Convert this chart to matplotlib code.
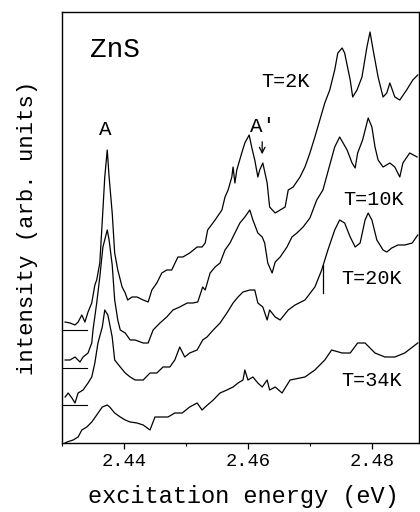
import matplotlib
matplotlib.use("Agg")
import matplotlib.pyplot as plt
from matplotlib.ticker import MultipleLocator

# excitation spectra of ZnS
# (energies in eV, intensity in arbitrary units incl. vertical offsets)
x_2K = [2.4305, 2.4313, 2.4321, 2.4326, 2.4332, 2.4337, 2.4342, 2.4348, 2.4353, 2.4356,
        2.4361, 2.4366, 2.4369, 2.4373, 2.4376, 2.4381, 2.4385, 2.4390, 2.4397, 2.4402,
        2.4406, 2.4413, 2.4421, 2.4431, 2.4439, 2.4445, 2.4453, 2.4461, 2.4469, 2.4477,
        2.4487, 2.4495, 2.4506, 2.4518, 2.4526, 2.4531, 2.4535, 2.4547, 2.4558, 2.4563,
        2.4568, 2.4574, 2.4576, 2.4579, 2.4582, 2.4590, 2.4595, 2.4602, 2.4606, 2.4611,
        2.4616, 2.4619, 2.4624, 2.4631, 2.4635, 2.4644, 2.4652, 2.4660, 2.4665, 2.4673,
        2.4684, 2.4692, 2.4700, 2.4708, 2.4716, 2.4724, 2.4732, 2.4740, 2.4745, 2.4752,
        2.4756, 2.4765, 2.4769, 2.4776, 2.4784, 2.4792, 2.4797, 2.4802, 2.4810, 2.4818,
        2.4824, 2.4829, 2.4837, 2.4845, 2.4856, 2.4866, 2.4874]
y_2K = [1.21, 1.20, 1.18, 1.21, 1.28, 1.21, 1.31, 1.40, 1.58, 1.63,
        1.80, 2.33, 2.66, 2.93, 2.66, 2.30, 1.90, 1.73, 1.56, 1.50,
        1.43, 1.46, 1.46, 1.43, 1.41, 1.53, 1.60, 1.70, 1.73, 1.73,
        1.86, 1.86, 1.90, 1.96, 1.96, 2.00, 2.13, 2.23, 2.33, 2.46,
        2.53, 2.66, 2.76, 2.60, 2.73, 2.90, 3.00, 3.08, 2.96, 2.83,
        2.66, 2.73, 2.80, 2.60, 2.36, 2.30, 2.33, 2.36, 2.53, 2.56,
        2.66, 2.76, 2.90, 3.06, 3.23, 3.40, 3.53, 3.73, 3.90, 3.95,
        3.90, 3.63, 3.46, 3.53, 3.66, 3.96, 4.11, 3.93, 3.66, 3.46,
        3.50, 3.60, 3.46, 3.43, 3.53, 3.63, 3.68]

x_10K = [2.4305, 2.4313, 2.4321, 2.4329, 2.4334, 2.4342, 2.4348, 2.4350, 2.4356, 2.4361,
         2.4366, 2.4373, 2.4376, 2.4381, 2.4385, 2.4390, 2.4394, 2.4402, 2.4410, 2.4418,
         2.4431, 2.4439, 2.4447, 2.4458, 2.4469, 2.4479, 2.4490, 2.4502, 2.4511, 2.4519,
         2.4527, 2.4531, 2.4539, 2.4547, 2.4555, 2.4563, 2.4571, 2.4579, 2.4587, 2.4595,
         2.4603, 2.4608, 2.4616, 2.4623, 2.4627, 2.4632, 2.4639, 2.4644, 2.4652, 2.4663,
         2.4671, 2.4679, 2.4689, 2.4700, 2.4711, 2.4721, 2.4732, 2.4740, 2.4748, 2.4760,
         2.4768, 2.4773, 2.4777, 2.4785, 2.4794, 2.4800, 2.4805, 2.4810, 2.4818, 2.4829,
         2.4837, 2.4845, 2.4850, 2.4861, 2.4873]
y_10K = [0.83, 0.83, 0.86, 0.81, 0.86, 0.90, 1.00, 1.13, 1.40, 1.66,
         1.96, 2.13, 2.03, 1.78, 1.43, 1.23, 1.13, 1.10, 1.03, 1.03,
         1.00, 1.00, 1.13, 1.20, 1.26, 1.33, 1.36, 1.40, 1.40, 1.41,
         1.56, 1.53, 1.70, 1.76, 1.80, 1.93, 2.00, 2.10, 2.20, 2.26,
         2.33, 2.23, 2.10, 2.06, 2.00, 1.80, 1.70, 1.81, 1.86, 1.96,
         2.06, 2.10, 2.16, 2.25, 2.43, 2.53, 2.78, 2.96, 3.06, 2.93,
         2.80, 2.75, 2.90, 3.03, 3.25, 3.16, 2.96, 2.83, 2.76, 2.80,
         2.76, 2.66, 2.80, 2.90, 2.86]

x_20K = [2.4305, 2.4310, 2.4316, 2.4321, 2.4326, 2.4334, 2.4342, 2.4348, 2.4353, 2.4358,
         2.4365, 2.4369, 2.4374, 2.4381, 2.4385, 2.4394, 2.4402, 2.4410, 2.4418, 2.4431,
         2.4442, 2.4453, 2.4463, 2.4474, 2.4482, 2.4490, 2.4498, 2.4506, 2.4518, 2.4527,
         2.4534, 2.4544, 2.4555, 2.4566, 2.4576, 2.4584, 2.4592, 2.4603, 2.4611, 2.4616,
         2.4624, 2.4631, 2.4635, 2.4644, 2.4652, 2.4665, 2.4676, 2.4692, 2.4708, 2.4719,
         2.4729, 2.4740, 2.4748, 2.4756, 2.4765, 2.4773, 2.4781, 2.4789, 2.4794, 2.4800,
         2.4808, 2.4818, 2.4824, 2.4832, 2.4842, 2.4853, 2.4865, 2.4874]
y_20K = [0.46, 0.50, 0.45, 0.40, 0.50, 0.53, 0.60, 0.66, 0.80, 1.00,
         1.16, 1.33, 1.28, 1.06, 0.83, 0.76, 0.70, 0.66, 0.63, 0.63,
         0.70, 0.70, 0.76, 0.76, 0.83, 0.96, 0.86, 0.90, 0.93, 1.03,
         1.06, 1.13, 1.20, 1.30, 1.40, 1.46, 1.51, 1.53, 1.53, 1.40,
         1.36, 1.23, 1.33, 1.26, 1.23, 1.33, 1.38, 1.43, 1.56, 1.73,
         1.93, 2.13, 2.23, 2.20, 2.06, 1.96, 2.00, 2.23, 2.30, 2.23,
         2.03, 1.93, 1.91, 1.95, 1.98, 1.98, 2.00, 2.08]

x_34K = [2.4305, 2.4308, 2.4318, 2.4326, 2.4332, 2.4340, 2.4348, 2.4356, 2.4365, 2.4373,
         2.4377, 2.4385, 2.4394, 2.4402, 2.4410, 2.4421, 2.4431, 2.4442, 2.4450, 2.4461,
         2.4471, 2.4482, 2.4494, 2.4506, 2.4518, 2.4526, 2.4531, 2.4544, 2.4555, 2.4566,
         2.4576, 2.4584, 2.4592, 2.4595, 2.4600, 2.4608, 2.4616, 2.4623, 2.4631, 2.4635,
         2.4644, 2.4655, 2.4668, 2.4684, 2.4692, 2.4708, 2.4724, 2.4735, 2.4752, 2.4765,
         2.4777, 2.4789, 2.4805, 2.4821, 2.4837, 2.4853, 2.4874]
y_34K = [0.00, 0.01, 0.03, 0.06, 0.13, 0.16, 0.21, 0.28, 0.36, 0.38,
         0.36, 0.30, 0.26, 0.23, 0.21, 0.20, 0.18, 0.13, 0.26, 0.26,
         0.26, 0.30, 0.30, 0.36, 0.40, 0.33, 0.36, 0.43, 0.50, 0.53,
         0.56, 0.60, 0.63, 0.73, 0.63, 0.66, 0.60, 0.56, 0.63, 0.53,
         0.56, 0.50, 0.63, 0.65, 0.66, 0.73, 0.83, 0.93, 0.90, 0.90,
         1.00, 1.00, 0.90, 0.86, 0.86, 0.90, 1.00]

# zero levels of the offset curves (short marks at the left)
baselines = [1.13, 0.75, 0.38]
base_x = [2.4300, 2.4340]

labels = ["T=2K", "T=10K", "T=20K", "T=34K"]
label_xy = [(2.4661, 3.61), (2.4803, 2.43), (2.4800, 1.65), (2.4800, 0.62)]

mono = "Liberation Mono"

fig = plt.figure(figsize=(4.2, 5.12), dpi=100)
ax = fig.add_axes([62 / 420, 69 / 512, 357 / 420, 431 / 512])

for xs, ys in [(x_2K, y_2K), (x_10K, y_10K), (x_20K, y_20K), (x_34K, y_34K)]:
    ax.plot(xs, ys, color="black", lw=0.9)

for b in baselines:
    ax.plot(base_x, [b, b], color="black", lw=0.8)

# small vertical marker on the T=20K trace
ax.plot([2.4721, 2.4721], [1.50, 1.78], color="black", lw=0.9)

for t, (tx, ty) in zip(labels, label_xy):
    ax.text(tx, ty, t, family=mono, fontsize=14.5, ha="center", va="center")

ax.text(2.4385, 3.93, "ZnS", family=mono, fontsize=20, ha="center", va="center")
ax.text(2.4369, 3.13, "A", family=mono, fontsize=15, ha="center", va="center")
ax.text(2.4623, 3.16, "A'", family=mono, fontsize=15, ha="center", va="center")
ax.annotate("", xy=(2.4623, 2.86), xytext=(2.4623, 3.04),
            arrowprops=dict(arrowstyle="->", color="black", lw=0.9))

ax.set_xlim(2.430, 2.4876)
ax.set_ylim(0, 4.31)
ax.xaxis.set_minor_locator(MultipleLocator(0.01))
ax.set_xticks([2.44, 2.46, 2.48])
ax.set_xticklabels(["2.44", "2.46", "2.48"], family=mono, fontsize=13.5)
ax.tick_params(axis="x", which="major", direction="out", length=4, width=0.9, pad=3)
ax.tick_params(axis="x", which="minor", direction="out", length=2.5, width=0.8)
ax.set_yticks([])
for s in ax.spines.values():
    s.set_linewidth(1.0)

fig.text(243 / 420, 1 - 496 / 512, "excitation energy (eV)", family=mono,
         fontsize=17, ha="center", va="center")
fig.text(28 / 420, 1 - 228 / 512, "intensity (arb. units)", family=mono,
         fontsize=16, ha="center", va="center", rotation=90)

fig.savefig("out.png", dpi=100)
